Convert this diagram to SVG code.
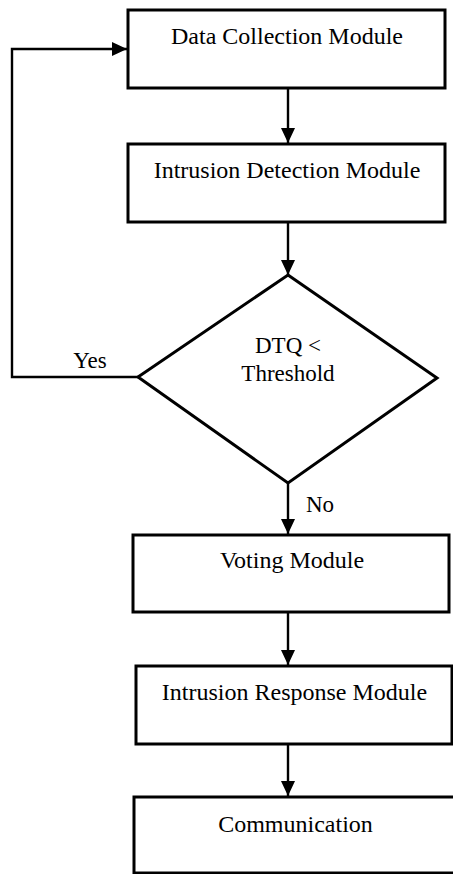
<svg xmlns="http://www.w3.org/2000/svg" width="453" height="874" viewBox="0 0 453 874">
<style>
.box{fill:#fff;stroke:#000;stroke-width:3}
.t{font-family:"Liberation Serif","Times New Roman",serif;font-size:24px;fill:#000;text-anchor:middle}
.s{font-size:23px}
.c{fill:none;stroke:#000;stroke-width:2.4}
</style>
<defs>
<marker id="ah" markerWidth="15" markerHeight="14" refX="15" refY="7" orient="auto" markerUnits="userSpaceOnUse">
<path d="M0,0 L15,7 L0,14 Z" fill="#000"/>
</marker>
</defs>
<rect width="453" height="874" fill="#fff"/>
<g id="connectors">
<path class="c" d="M288,88 V143" marker-end="url(#ah)"/>
<path class="c" d="M288,222 V275" marker-end="url(#ah)"/>
<path class="c" d="M138,377 H12 V49 H127" marker-end="url(#ah)"/>
<path class="c" d="M288,483 V534" marker-end="url(#ah)"/>
<path class="c" d="M288,612 V665" marker-end="url(#ah)"/>
<path class="c" d="M288,744 V796" marker-end="url(#ah)"/>
<text class="t s" x="90" y="368">Yes</text>
<text class="t s" x="320" y="512">No</text>
</g>
<g id="data-collection">
<rect class="box" x="128" y="10" width="317" height="78"/>
<text class="t" x="287" y="44">Data Collection Module</text>
</g>
<g id="intrusion-detection">
<rect class="box" x="128" y="144" width="317" height="78"/>
<text class="t" x="287" y="178">Intrusion Detection Module</text>
</g>
<g id="decision">
<polygon class="box" points="288,275 437,378 288,483 138,377"/>
<text class="t s" x="288" y="353">DTQ &lt;</text>
<text class="t s" x="288" y="381">Threshold</text>
</g>
<g id="voting">
<rect class="box" x="133" y="535" width="316" height="77"/>
<text class="t" x="292" y="568">Voting Module</text>
</g>
<g id="intrusion-response">
<rect class="box" x="136" y="666" width="316" height="78"/>
<text class="t" x="294.5" y="700">Intrusion Response Module</text>
</g>
<g id="communication">
<rect class="box" x="134" y="797" width="330" height="76"/>
<text class="t" x="295.5" y="832">Communication</text>
</g>
</svg>
